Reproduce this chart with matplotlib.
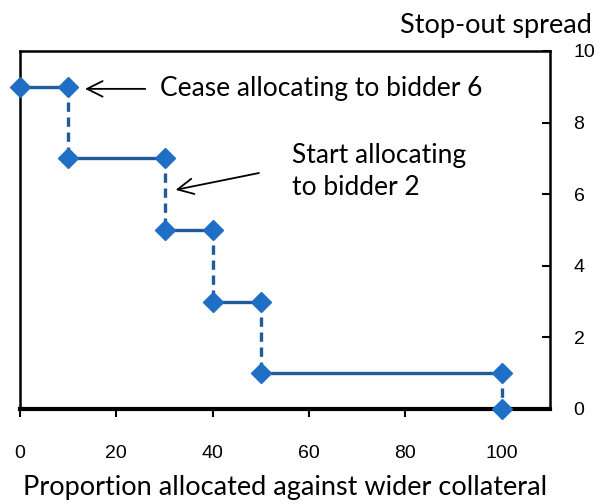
import matplotlib
matplotlib.use("Agg")
import matplotlib.pyplot as plt

# step points (proportion allocated, stop-out spread)
px = [0, 10, 10, 30, 30, 40, 40, 50, 50, 100, 100]
py = [9, 9, 7, 7, 5, 5, 3, 3, 1, 1, 0]

xticks = [0, 20, 40, 60, 80, 100]
yticks = [0, 2, 4, 6, 8, 10]

line_col = "#1F5C99"
mark_col = "#1F6FC5"
lab_font = "Lato"
tick_font = "Liberation Sans"

fig = plt.figure(figsize=(6.01, 5.04), dpi=100)
ax = fig.add_axes([0.0333, 0.1885, 0.8817, 0.7105])

for i in range(len(px) - 1):
    style = "-" if i % 2 == 0 else (0, (2.8, 1.7))
    ax.plot(px[i:i + 2], py[i:i + 2], color=line_col, lw=2.4, linestyle=style,
            solid_capstyle="butt", dash_capstyle="butt")
ax.plot(px, py, linestyle="none", marker="D", markersize=10.5, color=mark_col,
        clip_on=False, zorder=5)

ax.set_xlim(0, 110)
ax.set_ylim(0, 10)
ax.set_xticks(xticks)
ax.set_yticks(yticks)
ax.yaxis.tick_right()
ax.tick_params(axis="x", direction="out", length=6, width=1.5, pad=20, labelsize=14)
ax.tick_params(axis="y", direction="in", length=6, width=1.5, pad=17, labelsize=14)
for lab in ax.get_xticklabels() + ax.get_yticklabels():
    lab.set_fontfamily(tick_font)

for s in ["left", "top", "right"]:
    ax.spines[s].set_linewidth(1.8)
ax.spines["bottom"].set_linewidth(3)

ax.set_xlabel("Proportion allocated against wider collateral", fontsize=19.5,
              family=lab_font, labelpad=9)
fig.text(0.985, 0.925, "Stop-out spread", ha="right", va="bottom", fontsize=19.5,
         family=lab_font)

ax.annotate("", xy=(13.5, 8.94), xytext=(26, 8.94),
            arrowprops=dict(arrowstyle="->", color="black", lw=1.3,
                            mutation_scale=28, shrinkA=0, shrinkB=0))
ax.text(29, 8.94, "Cease allocating to bidder 6", fontsize=19, family=lab_font,
        va="center", ha="left")

ax.annotate("", xy=(32.3, 6.12), xytext=(49.6, 6.59),
            arrowprops=dict(arrowstyle="->", color="black", lw=1.3,
                            mutation_scale=28, shrinkA=0, shrinkB=0))
ax.text(56.4, 6.64, "Start allocating\nto bidder 2", fontsize=19, family=lab_font,
        va="center", ha="left", linespacing=1.35)

fig.savefig("out.png", dpi=100)
